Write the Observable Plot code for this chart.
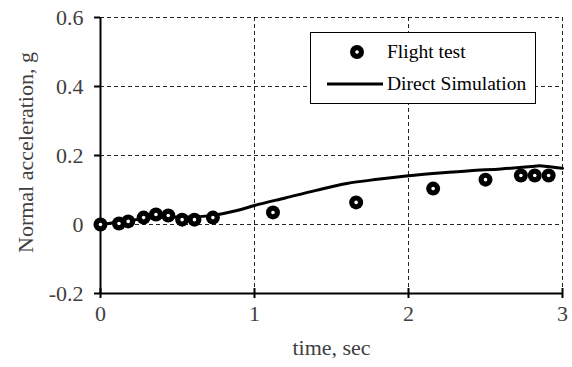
<!DOCTYPE html>
<html><head><meta charset="utf-8">
<script src="https://cdn.jsdelivr.net/npm/d3@7"></script>
<script src="https://cdn.jsdelivr.net/npm/@observablehq/plot@0.6"></script>
<style>
body{margin:0;background:#fff;}
#wrap{position:relative;width:572px;height:367px;}
#chart svg text{font-family:"Liberation Serif",serif !important;font-variant:normal !important;}
#legend{position:absolute;left:310px;top:32px;width:226px;height:72px;border:1px solid #000;background:#fff;box-sizing:border-box;font-family:"Liberation Serif",serif;font-size:19.5px;color:#000;}
#legend .row{position:absolute;left:0;height:22px;width:224px;}
#legend .lab{position:absolute;left:76px;top:0;line-height:22px;white-space:nowrap;}
</style>
</head><body>
<div id="wrap"><div id="chart"></div>
<div id="legend">
  <div class="row" style="top:8px;"><svg width="70" height="22" style="position:absolute;left:0;top:0"><circle cx="46" cy="11" r="7" fill="#000"/><circle cx="46" cy="11" r="1.8" fill="#fff"/></svg><span class="lab">Flight test</span></div>
  <div class="row" style="top:40px;"><svg width="76" height="22" style="position:absolute;left:0;top:0"><line x1="16" x2="72" y1="11" y2="11" stroke="#000" stroke-width="3"/></svg><span class="lab">Direct Simulation</span></div>
</div>
</div>
<script>
const flightTime = [0, 0.12, 0.18, 0.28, 0.36, 0.44, 0.53, 0.61, 0.73, 1.12, 1.66, 2.16, 2.5, 2.73, 2.82, 2.91];
const flightAccel = [0, 0.003, 0.009, 0.02, 0.029, 0.026, 0.014, 0.014, 0.02, 0.035, 0.064, 0.104, 0.13, 0.142, 0.142, 0.142];
const simTime = [0, 0.1, 0.2, 0.3, 0.4, 0.5, 0.6, 0.7, 0.8, 0.9, 1.0, 1.2, 1.4, 1.6, 1.8, 2.0, 2.2, 2.4, 2.6, 2.8, 2.85, 2.9, 3.0];
const simAccel = [0, 0.006, 0.012, 0.018, 0.021, 0.022, 0.022, 0.025, 0.032, 0.042, 0.055, 0.077, 0.099, 0.119, 0.131, 0.141, 0.149, 0.156, 0.161, 0.168, 0.17, 0.168, 0.163];
const xTicks = [0, 1, 2, 3];
const yTicks = [-0.2, 0, 0.2, 0.4, 0.6];
const xTickLabels = ["0", "1", "2", "3"];
const yTickLabels = ["-0.2", "0", "0.2", "0.4", "0.6"];
const xLabel = "time, sec";
const yLabel = "Normal acceleration, g";

const flight = flightTime.map((t, i) => ({t, a: flightAccel[i]}));
const sim = simTime.map((t, i) => ({t, a: simAccel[i]}));
const font = "Liberation Serif";
const textColor = "#404040";
const fs = 22;

const chart = Plot.plot({
  width: 572, height: 367,
  marginLeft: 100, marginRight: 10, marginTop: 17, marginBottom: 74,
  style: {fontFamily: font, fontSize: fs + "px", color: textColor, background: "#fff"},
  x: {domain: [0, 3], label: null, axis: null},
  y: {domain: [-0.2, 0.6], label: null, axis: null},
  marks: [
    Plot.gridX(xTicks.filter(d => d > 0), {stroke: "#000", strokeOpacity: 0.85, strokeDasharray: "4,3"}),
    Plot.gridY(yTicks.filter(d => d > -0.2), {stroke: "#000", strokeOpacity: 0.85, strokeDasharray: "4,3"}),
    Plot.ruleX([0], {stroke: "#000", strokeWidth: 2}),
    Plot.ruleY([-0.2], {stroke: "#000", strokeWidth: 2}),
    Plot.axisY(yTicks, {tickSize: 6, strokeWidth: 2, stroke: "#000", fill: "none"}),
    Plot.axisX(xTicks, {tickSize: 10, dy: -5, strokeWidth: 2, stroke: "#000", fill: "none"}),
    Plot.text(yTicks, {x: 0, y: d => d, dx: -17, textAnchor: "end", fill: textColor, fontSize: fs, fontFamily: font, text: (d, i) => yTickLabels[i]}),
    Plot.text(xTicks, {x: d => d, frameAnchor: "bottom", dy: 27, fill: textColor, fontSize: fs, fontFamily: font, text: (d, i) => xTickLabels[i]}),
    Plot.text([xLabel], {frameAnchor: "bottom", dy: 61, fill: textColor, fontSize: fs, fontFamily: font, text: d => d}),
    Plot.text([yLabel], {frameAnchor: "left", textAnchor: "middle", dx: -75, dy: -3, rotate: -90, fill: textColor, fontSize: fs, fontFamily: font, text: d => d}),
    Plot.line(sim, {x: "t", y: "a", stroke: "#000", strokeWidth: 3, curve: "monotone-x"}),
    Plot.dot(flight, {x: "t", y: "a", r: 7, fill: "#000", stroke: "none"}),
    Plot.dot(flight, {x: "t", y: "a", r: 1.8, fill: "#fff", stroke: "none"})
  ]
});
document.getElementById("chart").appendChild(chart);
</script>
</body></html>
